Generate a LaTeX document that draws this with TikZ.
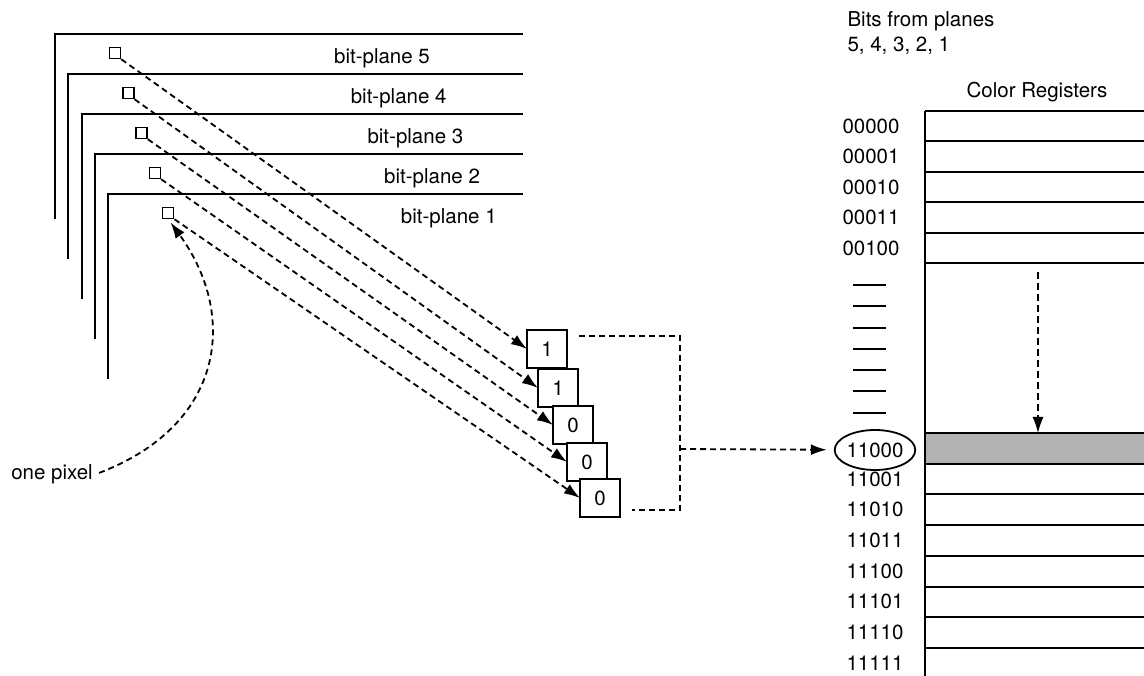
\documentclass[tikz,border=0pt]{standalone}
\usepackage{fontspec}
\setmainfont{TeX Gyre Heros}
\usetikzlibrary{calc,arrows.meta,shapes.geometric}

\begin{document}
\begin{tikzpicture}[x=1pt,y=-1pt,
    every node/.style={font=\fontsize{20.5}{24}\selectfont},
    planeline/.style={line width=2pt},
    dashline/.style={line width=1.8pt,dash pattern=on 6pt off 4pt},
    bitarrow/.style={-{Latex[length=16pt,width=11pt]}},
    pixelbox/.style={draw,line width=1.5pt,minimum size=11pt,inner sep=0pt},
    bitbox/.style={draw,fill=white,line width=1.8pt,minimum width=40pt,minimum height=38pt,inner sep=0pt},
    regline/.style={line width=2pt}]
    \useasboundingbox (0,0) rectangle (1144,676);

    \pgfmathsetmacro{\regleft}{925}
    \pgfmathsetmacro{\regright}{1150}

    \foreach \i in {0,...,4} {
        \pgfmathsetmacro{\px}{55+13.3*\i}
        \pgfmathsetmacro{\py}{34+40*\i}
        \pgfmathtruncatemacro{\pn}{5-\i}
        \draw[planeline] (\px,\py+185) -- (\px,\py) -- (523,\py);
        \node[pixelbox] (sq\pn) at (\px+60,\py+19) {};
        \node (lbl\pn) at (382+16.7*\i,\py+24) {bit-plane \pn};
    }

    \foreach \b/\x/\y/\v/\s in {1/547/349/1/5, 2/558/388/1/4, 3/573/425/0/3, 4/587/462/0/2, 5/600/498/0/1} {
        \draw[dashline,bitarrow] (sq\s.south east) -- (\x-20,\y);
        \node[bitbox] (bit\b) at (\x,\y) {\v};
    }

    \coordinate (brtop) at (579,336);
    \coordinate (brbot) at (632,510);
    \coordinate (brmid) at (680,449);
    \draw[dashline] (brtop) -| (brmid) |- (brbot);

    \node (onepix) at (52,474) {one pixel};
    \draw[dashline,bitarrow,shorten >=4pt,shorten <=3pt] (onepix.east) .. controls (225,425) and (238,315) .. (sq1.south);

    \node[anchor=west] (bits) at (844,21) {Bits from planes};
    \node[anchor=west] (order) at (844,46) {5, 4, 3, 2, 1};
    \node (colreg) at (1037,92) {Color Registers};

    \fill[black!30] (\regleft,433) rectangle (\regright,463.7);
    \foreach \k in {0,...,5}
        \draw[regline] (\regleft,111+30.5*\k) -- (\regright,111+30.5*\k);
    \foreach \k in {0,...,7}
        \draw[regline] (\regleft,433+30.7*\k) -- (\regright,433+30.7*\k);
    \draw[regline] (\regleft,111) -- (\regleft,680);

    \foreach \code [count=\k from 0] in {00000,00001,00010,00011,00100}
        \node (code\code) at (871,{111+30.5*(\k+0.5)}) {\code};
    \foreach \t in {0,...,6}
        \draw[regline] (853,285+21.3*\t) -- (886,285+21.3*\t);
    \node[draw,ellipse,line width=1.8pt,minimum width=77pt,minimum height=40pt,inner sep=0pt] (sel) at (875,450) {11000};
    \foreach \code [count=\k from 1] in {11001,11010,11011,11100,11101,11110,11111}
        \node (code\code) at (875,{433+30.7*(\k+0.5)}) {\code};

    \draw[dashline,bitarrow,shorten >=7pt] (brmid) -- (sel);

    \coordinate (drop) at (1038,272);
    \coordinate (hit) at (1038,433);
    \draw[line width=1.5pt,dash pattern=on 7pt off 4pt,bitarrow] (drop) -- (hit);
  \end{tikzpicture}
\end{document}
